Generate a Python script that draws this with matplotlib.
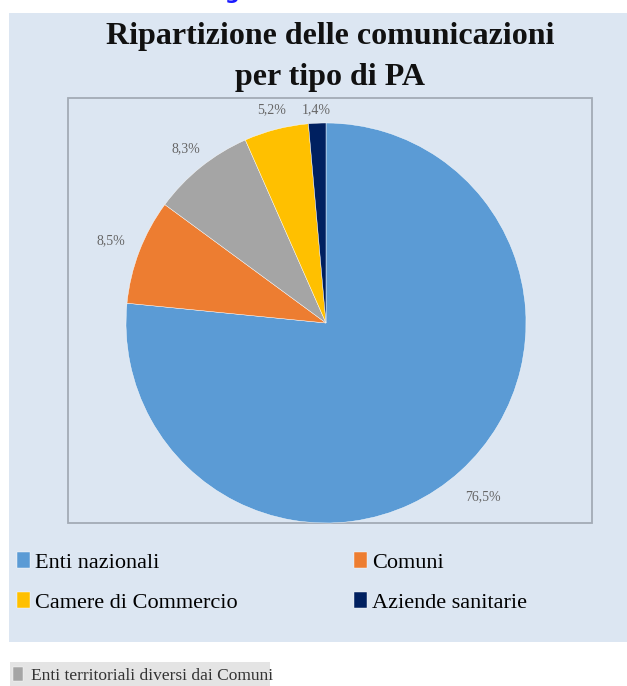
import matplotlib
matplotlib.use("Agg")
import matplotlib.pyplot as plt
from matplotlib.patches import Rectangle
import numpy as np

W, H = 627, 686
categories = ["Enti nazionali", "Comuni", "Enti territoriali diversi dai Comuni",
              "Camere di Commercio", "Aziende sanitarie"]
values = [76.5, 8.5, 8.3, 5.2, 1.4]
colors = ["#5B9BD5", "#ED7D31", "#A5A5A5", "#FFC000", "#002060"]
title = "Ripartizione delle comunicazioni\nper tipo di PA"
label_dist = [1.17, 1.15, 1.12, 1.10, 1.07]

SERIF = ["Liberation Serif", "DejaVu Serif"]

fig = plt.figure(figsize=(W / 100, H / 100), dpi=100)
fig.patch.set_facecolor("white")

def fx(px):
    return px / W

def fy(py):
    return 1 - py / H

# blue panel
fig.patches.append(Rectangle((fx(9), fy(642)), fx(627) - fx(9), fy(13) - fy(642),
                             transform=fig.transFigure, facecolor="#DCE6F2",
                             edgecolor="none", zorder=-5))
# plot-area border
fig.patches.append(Rectangle((fx(68), fy(523)), fx(592) - fx(68), fy(98) - fy(523),
                             transform=fig.transFigure, facecolor="none",
                             edgecolor="#A3ABB6", lw=1.3, zorder=-4))
# gray strip at bottom
fig.patches.append(Rectangle((fx(10), fy(686)), fx(270) - fx(10), fy(662) - fy(686),
                             transform=fig.transFigure, facecolor="#E4E4E4",
                             edgecolor="none", zorder=-5))

# cut-off blue heading above
fig.text(fx(232), fy(-1), "g", color="#1a1aff", fontsize=15, fontweight="bold",
         ha="center", va="baseline", family="DejaVu Sans")

fig.text(fx(330), fy(57), title, ha="center", va="center", fontsize=23,
         fontweight="bold", family=SERIF, linespacing=1.55, color="#111111")

# pie axes: center (326,323), radius 200
cx, cy, r = 326, 323, 200
ax = fig.add_axes([fx(cx - r), fy(cy + r), (2 * r) / W, (2 * r) / H])
ax.set_zorder(5)
wedges, _ = ax.pie(values, colors=colors, startangle=90, counterclock=False,
                   wedgeprops=dict(edgecolor="white", linewidth=0.3))
ax.set_xlim(-1, 1)
ax.set_ylim(-1, 1)
ax.set_aspect("equal")
ax.axis("off")

for w, v, d in zip(wedges, values, label_dist):
    ang = np.deg2rad((w.theta1 + w.theta2) / 2)
    lab = f"{v:.1f}".replace(".", ",") + "%"
    ax.text(d * np.cos(ang), d * np.sin(ang), lab, ha="center", va="center",
            fontsize=10, color="#666666", family=SERIF)

leg_kw = dict(frameon=False, handlelength=0.6, handleheight=0.7,
              handletextpad=0.2, labelspacing=0.88, borderpad=0, borderaxespad=0,
              prop={"family": SERIF, "size": 16})
idx1 = [0, 3]
idx2 = [1, 4]
l1 = fig.legend([wedges[i] for i in idx1], [categories[i] for i in idx1],
                loc="upper left", bbox_to_anchor=(fx(17), fy(552)), **leg_kw)
l2 = fig.legend([wedges[i] for i in idx2], [categories[i] for i in idx2],
                loc="upper left", bbox_to_anchor=(fx(354), fy(552)), **leg_kw)
l3 = fig.legend([wedges[2]], [categories[2]], loc="upper left",
                bbox_to_anchor=(fx(13), fy(667)), frameon=False,
                handlelength=0.55, handleheight=0.9, handletextpad=0.5,
                borderpad=0, borderaxespad=0,
                prop={"family": SERIF, "size": 12.5})
for t in l3.get_texts():
    t.set_color("#333333")

fig.savefig("out.png", dpi=100)
